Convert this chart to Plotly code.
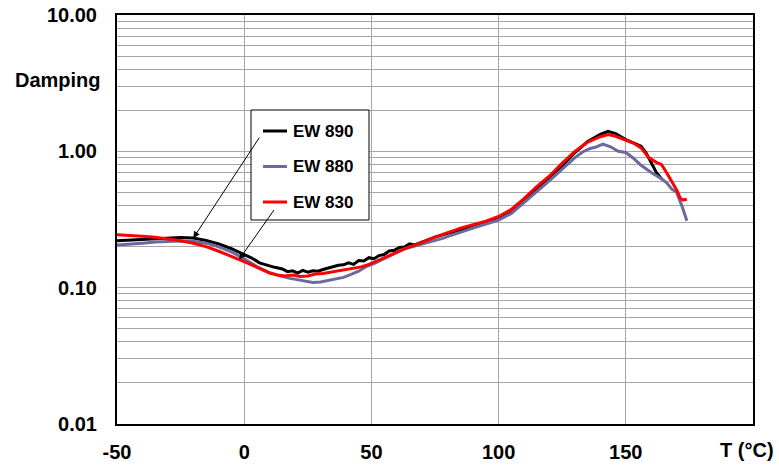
import math
import numpy as np
import plotly.graph_objects as go

# Damping vs temperature for three grades
t_890 = [-50, -45, -40, -35, -30, -25, -20, -15, -10, -5, 0, 3, 6, 9, 12, 15, 17, 19, 21, 23, 25, 27, 29,
         31, 33, 35, 37, 39, 41, 43, 45, 47, 49, 51, 53, 55, 57, 59, 61, 63, 65, 67, 70, 75, 80, 85, 90,
         95, 100, 105, 110, 115, 120, 125, 130, 135, 140, 143, 146, 150, 153, 156, 158, 160, 162, 164]
d_890 = [0.221, 0.223, 0.226, 0.229, 0.232, 0.233, 0.231, 0.222, 0.209, 0.193, 0.175, 0.165, 0.152,
         0.146, 0.141, 0.137, 0.131, 0.133, 0.128, 0.134, 0.130, 0.133, 0.132, 0.136, 0.139, 0.141,
         0.146, 0.147, 0.152, 0.148, 0.158, 0.157, 0.166, 0.163, 0.172, 0.175, 0.186, 0.188, 0.197,
         0.199, 0.210, 0.206, 0.216, 0.235, 0.250, 0.267, 0.283, 0.300, 0.318, 0.355, 0.43, 0.52,
         0.64, 0.78, 0.98, 1.18, 1.33, 1.40, 1.35, 1.22, 1.16, 1.09, 0.97, 0.82, 0.70, 0.63]

t_880 = [-50, -45, -40, -35, -30, -25, -20, -15, -10, -5, 0, 5, 10, 14, 18, 21, 24, 27, 30, 33, 36, 39,
         42, 45, 48, 51, 54, 57, 60, 63, 66, 69, 72, 75, 78, 81, 84, 87, 90, 95, 100, 105, 110, 115,
         120, 125, 130, 133, 136, 138, 141, 144, 147, 150, 153, 156, 160, 164, 166, 168, 170, 172, 174]
d_880 = [0.206, 0.208, 0.212, 0.216, 0.219, 0.220, 0.219, 0.212, 0.199, 0.183, 0.163, 0.143, 0.129,
         0.122, 0.117, 0.114, 0.112, 0.109, 0.110, 0.113, 0.116, 0.119, 0.125, 0.132, 0.143, 0.150,
         0.160, 0.170, 0.183, 0.193, 0.199, 0.206, 0.214, 0.221, 0.230, 0.241, 0.250, 0.262, 0.274,
         0.293, 0.313, 0.35, 0.42, 0.50, 0.61, 0.74, 0.90, 0.99, 1.05, 1.07, 1.13, 1.08, 1.00, 0.98,
         0.89, 0.79, 0.70, 0.63, 0.59, 0.53, 0.50, 0.40, 0.31]

t_830 = [-50, -45, -40, -35, -30, -25, -20, -15, -10, -5, 0, 5, 10, 13, 16, 19, 22, 25, 28, 31, 34, 37,
         40, 43, 46, 49, 52, 55, 58, 61, 64, 67, 70, 75, 80, 85, 90, 95, 100, 105, 110, 115, 120, 125,
         130, 135, 140, 143, 146, 150, 153, 156, 159, 162, 164, 166, 168, 170, 171.5, 172.5, 174]
d_830 = [0.244, 0.242, 0.238, 0.234, 0.228, 0.221, 0.212, 0.200, 0.185, 0.170, 0.155, 0.141, 0.128,
         0.124, 0.122, 0.124, 0.121, 0.122, 0.126, 0.127, 0.130, 0.133, 0.135, 0.138, 0.142, 0.148,
         0.156, 0.165, 0.175, 0.185, 0.196, 0.205, 0.215, 0.235, 0.254, 0.273, 0.290, 0.307, 0.333,
         0.375, 0.45, 0.55, 0.66, 0.82, 1.00, 1.17, 1.28, 1.33, 1.29, 1.21, 1.15, 1.06, 0.90, 0.83,
         0.80, 0.70, 0.60, 0.52, 0.45, 0.44, 0.445]

series = [
    ("EW 890", t_890, d_890, "#000000"),
    ("EW 880", t_880, d_880, "#6a6aa0"),
    ("EW 830", t_830, d_830, "#ff0000"),
]

x_ticks = [-50, 0, 50, 100, 150]
y_ticks = [10, 1, 0.1, 0.01]
y_tick_text = ["10.00", "1.00", "0.10", "0.01"]
y_minor = [m * 10.0 ** e for e in (-2, -1, 0) for m in range(2, 10)]

FONT = "Arial, Liberation Sans, sans-serif"
W, H = 779, 467
L, R, T, B = 117, 26, 15, 43
PW, PH = W - L - R, H - T - B


def px(xp):
    return (xp - L) / PW


def py(yp):
    return (H - B - yp) / PH


fig = go.Figure()
for name, tx, dy, color in series:
    fig.add_trace(go.Scatter(x=tx, y=dy, mode="lines", name=name,
                             line=dict(color=color, width=3), showlegend=False))

# legend box drawn as shapes + text
shapes = [dict(type="rect", xref="paper", yref="paper", x0=px(251), x1=px(369), y0=py(220), y1=py(110),
               line=dict(color="black", width=1), fillcolor="white", layer="above")]
annotations = []
for i, (name, tx, dy, color) in enumerate(series):
    yy = py(131 + 35.5 * i)
    shapes.append(dict(type="line", xref="paper", yref="paper", x0=px(263), x1=px(287), y0=yy, y1=yy,
                       line=dict(color=color, width=3), layer="above"))
    annotations.append(dict(xref="paper", yref="paper", x=px(291), y=yy, text="<b>%s</b>" % name,
                            showarrow=False, xanchor="left", yanchor="middle",
                            font=dict(family=FONT, size=17, color="black")))

# pointer arrows from legend to curves
head1_t = -20
head1_v = float(np.interp(head1_t, t_890, d_890))
head2_t = -2
head2_v = float(np.interp(head2_t, t_830, d_830))
for ht, hv, ax, ay in [(head1_t, head1_v, 67, -102), (head2_t, head2_v, 36, -51)]:
    annotations.append(dict(xref="x", yref="y", x=ht, y=math.log10(hv), ax=ax, ay=ay,
                            showarrow=True, arrowhead=2, arrowsize=1.3, arrowwidth=1,
                            arrowcolor="black", standoff=0, text=""))

annotations.append(dict(xref="paper", yref="paper", x=px(103), y=py(80), text="<b>Damping</b>",
                        showarrow=False, xanchor="right", yanchor="middle",
                        font=dict(family=FONT, size=20, color="black")))
annotations.append(dict(xref="paper", yref="paper", x=px(776), y=py(450), text="<b>T (°C)</b>",
                        showarrow=False, xanchor="right", yanchor="middle",
                        font=dict(family=FONT, size=20, color="black")))

grid = "#a6a6a6"
fig.update_layout(
    width=W, height=H, margin=dict(l=L, r=R, t=T, b=B, pad=0, autoexpand=False),
    paper_bgcolor="white", plot_bgcolor="white",
    font=dict(family=FONT, size=20, color="black"),
    shapes=shapes, annotations=annotations,
    xaxis=dict(range=[-50, 200], tickvals=x_ticks, ticktext=["<b>%d</b>" % v for v in x_ticks],
               showgrid=True, gridcolor=grid, gridwidth=1, zeroline=False,
               showline=True, linecolor="black", linewidth=2, mirror=True,
               ticks="", ticklabelstandoff=9, automargin=False),
    yaxis=dict(type="log", range=[-2, 1], tickvals=y_ticks,
               ticktext=["<b>%s</b>" % s for s in y_tick_text],
               showgrid=True, gridcolor=grid, gridwidth=1, zeroline=False,
               showline=True, linecolor="black", linewidth=2, mirror=True,
               ticks="", ticklabelstandoff=14, automargin=False,
               minor=dict(tickvals=y_minor, showgrid=True, gridcolor=grid, gridwidth=1, ticks="")),
)

fig.write_html("out.html")
